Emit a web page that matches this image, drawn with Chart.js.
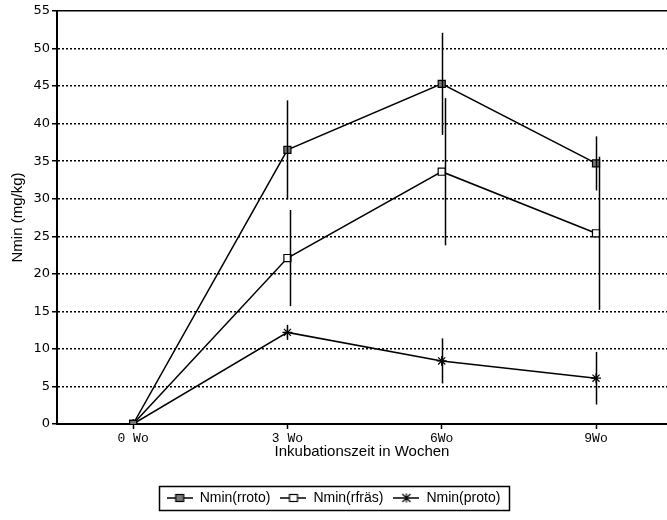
<!DOCTYPE html>
<html lang="de">
<head>
    <meta charset="UTF-8">
    <title>Nmin Inkubation</title>
    <script src="https://cdn.jsdelivr.net/npm/chart.js"></script>
    <style>
        html, body { margin: 0; padding: 0; background: #fff; }
        #wrap { width: 667px; height: 520px; }
    </style>
</head>
<body>
    <div id="wrap"><canvas id="nminChart" width="667" height="520"></canvas></div>

    <script>
        // Inkubationszeit (Wochen) and tick labels
        const weeks = [0, 3, 6, 9];
        const weekLabels = ['0 Wo', '3 Wo', '6Wo', '9Wo'];

        // Nmin (mg/kg) and error bar half-widths
        const rroto = [0, 36.5, 45.3, 34.7];
        const rrotoErr = [0, 6.6, 6.8, 3.6];
        const rfraes = [0, 22.1, 33.6, 25.4];
        const rfraesErr = [0, 6.4, 9.8, 10.2];
        const proto = [0, 12.2, 8.4, 6.1];
        const protoErr = [0, 1.0, 3.0, 3.5];

        const seriesNames = ['Nmin(rroto)', 'Nmin(rfräs)', 'Nmin(proto)'];
        const yTicks = [0, 5, 10, 15, 20, 25, 30, 35, 40, 45, 50, 55];

        // legend icons: short line with the marker in the middle
        function makeIcon(kind) {
            const c = document.createElement('canvas');
            c.width = 26; c.height = 12;
            const g = c.getContext('2d');
            g.strokeStyle = '#000';
            g.lineWidth = 1.5;
            g.beginPath(); g.moveTo(0, 6); g.lineTo(26, 6); g.stroke();
            if (kind === 'filled' || kind === 'open') {
                g.fillStyle = kind === 'filled' ? '#777' : '#fff';
                g.fillRect(9, 2.5, 8, 7);
                g.lineWidth = 1.2;
                g.strokeRect(9, 2.5, 8, 7);
            } else {
                g.lineWidth = 1.2;
                g.beginPath();
                g.moveTo(9, 2); g.lineTo(17, 10);
                g.moveTo(17, 2); g.lineTo(9, 10);
                g.moveTo(13, 1.5); g.lineTo(13, 10.5);
                g.stroke();
            }
            return c;
        }
        const icons = [makeIcon('filled'), makeIcon('open'), makeIcon('star')];

        function toPoints(vals) {
            return weeks.map((w, i) => ({ x: w, y: vals[i] }));
        }

        // vertical error bars, drawn with the chart's own scales
        const errorBars = {
            id: 'errorBars',
            afterDatasetsDraw(chart) {
                const ctx = chart.ctx;
                const ys = chart.scales.y;
                const errs = [rrotoErr, rfraesErr, protoErr];
                const vals = [rroto, rfraes, proto];
                const nudge = [0, 3, 0];
                ctx.save();
                ctx.strokeStyle = '#000';
                ctx.lineWidth = 1.5;
                errs.forEach((e, d) => {
                    const meta = chart.getDatasetMeta(d);
                    meta.data.forEach((pt, i) => {
                        if (!e[i]) return;
                        const x = Math.round(pt.x + nudge[d]) + 0.5;
                        ctx.beginPath();
                        ctx.moveTo(x, ys.getPixelForValue(vals[d][i] + e[i]));
                        ctx.lineTo(x, ys.getPixelForValue(vals[d][i] - e[i]));
                        ctx.stroke();
                    });
                });
                ctx.restore();
            }
        };

        // frame around the legend
        const legendFrame = {
            id: 'legendFrame',
            afterDraw(chart) {
                const boxes = chart.legend && chart.legend.legendHitBoxes;
                if (!boxes || !boxes.length) return;
                let l = Infinity, r = -Infinity, t = Infinity, b = -Infinity;
                boxes.forEach(h => {
                    l = Math.min(l, h.left); r = Math.max(r, h.left + h.width);
                    t = Math.min(t, h.top); b = Math.max(b, h.top + h.height);
                });
                const ctx = chart.ctx;
                ctx.save();
                ctx.strokeStyle = '#000';
                ctx.lineWidth = 1.5;
                ctx.strokeRect(Math.round(l - 8) + 0.5, Math.round(t - 5) + 0.5, Math.round(r - l + 16), Math.round(b - t + 10));
                ctx.restore();
            }
        };

        const lineStyle = {
            borderColor: '#000',
            borderWidth: 1.5,
            pointBorderColor: '#000',
            pointBorderWidth: 1.2,
            pointRadius: 5,
            tension: 0,
            fill: false
        };

        new Chart(document.getElementById('nminChart'), {
            type: 'line',
            data: {
                datasets: [
                    Object.assign({ label: seriesNames[0], data: toPoints(rroto), pointStyle: 'rect', pointBackgroundColor: '#777' }, lineStyle),
                    Object.assign({ label: seriesNames[1], data: toPoints(rfraes), pointStyle: 'rect', pointBackgroundColor: '#fff' }, lineStyle),
                    Object.assign({ label: seriesNames[2], data: toPoints(proto), pointStyle: 'star', pointBackgroundColor: '#fff', pointRadius: 5 }, lineStyle)
                ]
            },
            options: {
                responsive: false,
                animation: false,
                layout: { autoPadding: false, padding: { left: 0, right: 0, top: 11, bottom: 5 } },
                scales: {
                    x: {
                        type: 'linear',
                        min: -1.48,
                        max: 10.38,
                        afterBuildTicks: s => { s.ticks = weeks.map(v => ({ value: v })); },
                        afterFit: s => { s.height = 57; s.paddingLeft = 0; s.paddingRight = 0; },
                        ticks: {
                            autoSkip: false,
                            maxRotation: 0,
                            padding: 2,
                            color: '#000',
                            font: { family: '"Liberation Mono", "DejaVu Sans Mono", monospace', size: 13 },
                            callback: v => weekLabels[weeks.indexOf(v)]
                        },
                        grid: { drawOnChartArea: false, drawTicks: true, tickLength: 5, tickColor: '#000', tickWidth: 1.5 },
                        border: { display: true, color: '#000', width: 2 },
                        title: {
                            display: true,
                            text: 'Inkubationszeit in Wochen',
                            color: '#000',
                            font: { family: '"Liberation Sans", Arial, sans-serif', size: 15 },
                            padding: { top: 0, bottom: 20 }
                        }
                    },
                    y: {
                        min: 0,
                        max: 55,
                        afterBuildTicks: s => { s.ticks = yTicks.map(v => ({ value: v })); },
                        afterFit: s => { s.width = 57; },
                        ticks: {
                            padding: 2,
                            color: '#000',
                            font: { family: '"DejaVu Sans", Verdana, sans-serif', size: 13 }
                        },
                        grid: {
                            color: c => (c.tick && c.tick.value === 0) ? 'rgba(0,0,0,0)' : '#000',
                            lineWidth: 1.5,
                            tickLength: 5,
                            tickColor: '#000',
                            tickWidth: 1.5,
                            tickBorderDash: []
                        },
                        border: {
                            display: true,
                            color: '#000',
                            width: 2,
                            dash: c => (c.tick && c.tick.value === 55) ? [] : [2, 2]
                        },
                        title: {
                            display: true,
                            text: 'Nmin (mg/kg)',
                            color: '#000',
                            font: { family: '"Liberation Sans", Arial, sans-serif', size: 15 },
                            padding: { top: 9, bottom: 0 }
                        }
                    }
                },
                plugins: {
                    legend: {
                        position: 'bottom',
                        labels: {
                            usePointStyle: true,
                            pointStyleWidth: 26,
                            padding: 10,
                            color: '#000',
                            font: { family: '"Liberation Sans", Arial, sans-serif', size: 14 },
                            generateLabels: chart => {
                                const items = Chart.defaults.plugins.legend.labels.generateLabels(chart);
                                items.forEach((it, i) => { it.pointStyle = icons[i]; });
                                return items;
                            }
                        }
                    },
                    tooltip: { enabled: false }
                }
            },
            plugins: [errorBars, legendFrame]
        });
    </script>
</body>
</html>
